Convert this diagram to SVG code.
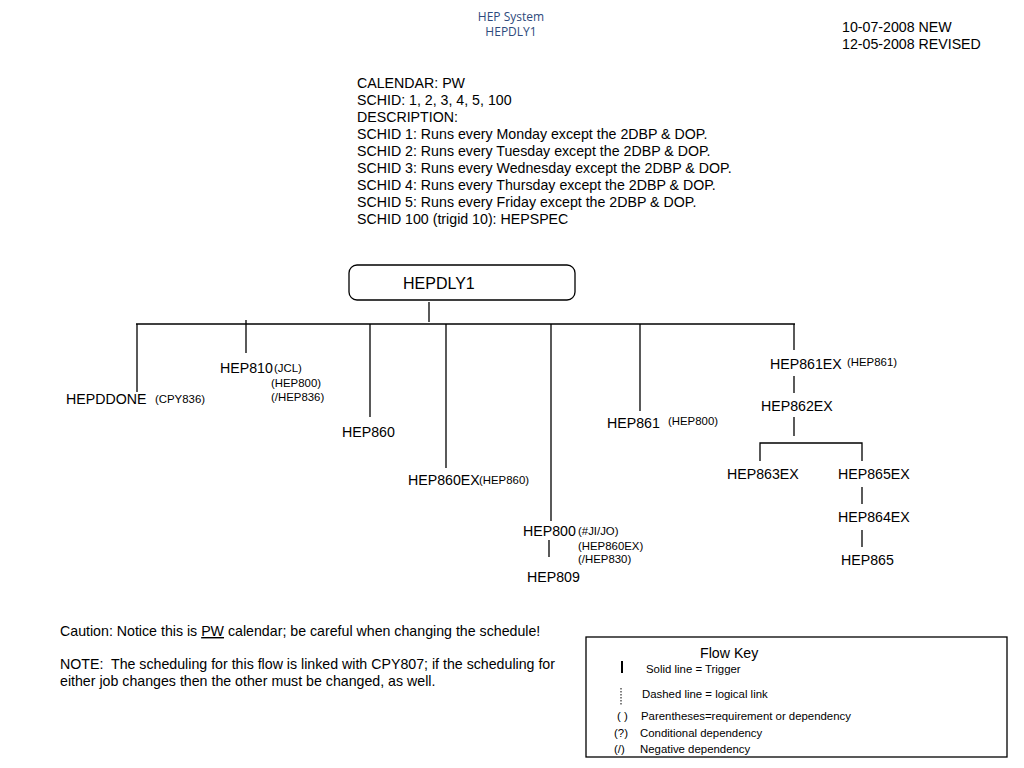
<svg xmlns="http://www.w3.org/2000/svg" width="1024" height="768" viewBox="0 0 1024 768">
<style>
text{font-family:"Liberation Sans",Arial,sans-serif;fill:#000}
.n{font-size:14.2px}
.s{font-size:11.4px}
.h{font-family:"Open Sans","Liberation Sans",sans-serif;font-size:12px;fill:#2E4A7D;text-anchor:middle}
.ln{stroke:#000;stroke-width:1.3;fill:none}
</style>
<rect width="1024" height="768" fill="#fff"/>
<g id="header">
<text class="h" x="511" y="21">HEP System</text>
<text class="h" x="511" y="36">HEPDLY1</text>
<text class="n" x="842" y="32">10-07-2008 NEW</text>
<text class="n" x="842" y="49">12-05-2008 REVISED</text>
</g>
<g id="description">
<text class="n" x="357" y="88">CALENDAR: PW</text>
<text class="n" x="357" y="105">SCHID: 1, 2, 3, 4, 5, 100</text>
<text class="n" x="357" y="122">DESCRIPTION:</text>
<text class="n" x="357" y="139">SCHID 1: Runs every Monday except the 2DBP &amp; DOP.</text>
<text class="n" x="357" y="156">SCHID 2: Runs every Tuesday except the 2DBP &amp; DOP.</text>
<text class="n" x="357" y="173">SCHID 3: Runs every Wednesday except the 2DBP &amp; DOP.</text>
<text class="n" x="357" y="190">SCHID 4: Runs every Thursday except the 2DBP &amp; DOP.</text>
<text class="n" x="357" y="207">SCHID 5: Runs every Friday except the 2DBP &amp; DOP.</text>
<text class="n" x="357" y="224">SCHID 100 (trigid 10): HEPSPEC</text>
</g>
<g id="connectors" class="ln">
<line x1="429" y1="302" x2="429" y2="322"/>
<line x1="136" y1="324" x2="795" y2="324"/>
<line x1="137" y1="324" x2="137" y2="392"/>
<line x1="246" y1="320" x2="246" y2="353"/>
<line x1="370" y1="324" x2="370" y2="417"/>
<line x1="446" y1="324" x2="446" y2="468"/>
<line x1="551" y1="324" x2="551" y2="521"/>
<line x1="640" y1="324" x2="640" y2="411"/>
<line x1="794" y1="324" x2="794" y2="350"/>
<line x1="549" y1="540" x2="549" y2="557"/>
<line x1="794" y1="376" x2="794" y2="393"/>
<line x1="794" y1="417" x2="794" y2="436"/>
<polyline points="760,461 760,443 862,443 862,461"/>
<line x1="862" y1="487" x2="862" y2="504"/>
<line x1="862" y1="530" x2="862" y2="547"/>
</g>
<g id="HEPDLY1">
<rect x="349" y="265" width="226" height="35" rx="8" fill="#fff" stroke="#000" stroke-width="1.3"/>
<text x="403" y="289" font-size="16">HEPDLY1</text>
</g>
<g id="HEPDDONE"><text class="n" x="66" y="404">HEPDDONE</text><text class="s" x="155" y="403">(CPY836)</text></g>
<g id="HEP810"><text class="n" x="220" y="373">HEP810</text><text class="s" x="274" y="372">(JCL)</text><text class="s" x="271" y="387">(HEP800)</text><text class="s" x="271" y="401">(/HEP836)</text></g>
<g id="HEP860"><text class="n" x="342" y="437">HEP860</text></g>
<g id="HEP860EX"><text class="n" x="408" y="485">HEP860EX</text><text class="s" x="479" y="484">(HEP860)</text></g>
<g id="HEP800"><text class="n" x="523" y="536">HEP800</text><text class="s" x="578" y="535">(#JI/JO)</text><text class="s" x="578" y="550">(HEP860EX)</text><text class="s" x="578" y="563">(/HEP830)</text></g>
<g id="HEP809"><text class="n" x="527" y="582">HEP809</text></g>
<g id="HEP861"><text class="n" x="607" y="428">HEP861</text><text class="s" x="668" y="425">(HEP800)</text></g>
<g id="HEP861EX"><text class="n" x="770" y="369">HEP861EX</text><text class="s" x="847" y="366">(HEP861)</text></g>
<g id="HEP862EX"><text class="n" x="761" y="411">HEP862EX</text></g>
<g id="HEP863EX"><text class="n" x="727" y="479">HEP863EX</text></g>
<g id="HEP865EX"><text class="n" x="838" y="479">HEP865EX</text></g>
<g id="HEP864EX"><text class="n" x="838" y="522">HEP864EX</text></g>
<g id="HEP865"><text class="n" x="841" y="565">HEP865</text></g>
<g id="notes">
<text class="n" x="60" y="636">Caution: Notice this is <tspan text-decoration="underline">PW</tspan> calendar; be careful when changing the schedule!</text>
<text class="n" x="60" y="669">NOTE:&#160; The scheduling for this flow is linked with CPY807; if the scheduling for</text>
<text class="n" x="60" y="686">either job changes then the other must be changed, as well.</text>
</g>
<g id="flowkey">
<rect x="586" y="637" width="421" height="120" fill="#fff" stroke="#000" stroke-width="1.3"/>
<text class="n" x="700" y="658">Flow Key</text>
<line x1="622" y1="661" x2="622" y2="673" stroke="#000" stroke-width="2"/>
<text class="s" x="646" y="673">Solid line = Trigger</text>
<line x1="621" y1="688" x2="621" y2="705" stroke="#000" stroke-width="1" stroke-dasharray="1.5,1.5"/>
<text class="s" x="642" y="698">Dashed line = logical link</text>
<text class="s" x="617" y="720">( )</text>
<text class="s" x="641" y="720">Parentheses=requirement or dependency</text>
<text class="s" x="614" y="737">(?)</text>
<text class="s" x="640" y="737">Conditional dependency</text>
<text class="s" x="614" y="753">(/)</text>
<text class="s" x="640" y="753">Negative dependency</text>
</g>
</svg>
